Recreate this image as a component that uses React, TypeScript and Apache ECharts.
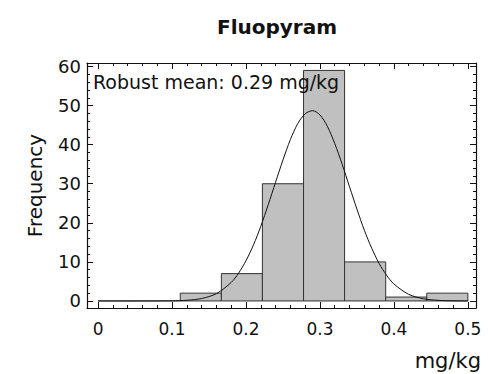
import React, { useEffect, useRef } from "react";
import * as echarts from "echarts";

const binEdges = [0, 0.0556, 0.1111, 0.1667, 0.2222, 0.2778, 0.3333, 0.3889, 0.4444, 0.5];
const binCounts = [0, 0, 2, 7, 30, 59, 10, 1, 2];

const curveX = [0, 0.04, 0.08, 0.1, 0.12, 0.14, 0.16, 0.18, 0.19, 0.2, 0.21, 0.22, 0.23, 0.24, 0.25, 0.26, 0.27, 0.28, 0.29, 0.3, 0.31, 0.32, 0.33, 0.34, 0.35, 0.36, 0.37, 0.38, 0.39, 0.4, 0.42, 0.44, 0.46, 0.48, 0.5];
const curveY = [0, 0, 0.01, 0.04, 0.18, 0.63, 1.87, 4.74, 7.12, 10.3, 14.3, 19.1, 24.6, 30.4, 36.1, 41.3, 45.4, 47.9, 48.7, 47.6, 44.7, 40.3, 35.0, 29.2, 23.5, 18.1, 13.5, 9.6, 6.6, 4.35, 1.69, 0.56, 0.16, 0.04, 0.01];

const xMajorTicks = [0, 0.1, 0.2, 0.3, 0.4, 0.5];
const xMinorTicks = [0, 0.02, 0.04, 0.06, 0.08, 0.1, 0.12, 0.14, 0.16, 0.18, 0.2, 0.22, 0.24, 0.26, 0.28, 0.3, 0.32, 0.34, 0.36, 0.38, 0.4, 0.42, 0.44, 0.46, 0.48, 0.5];
const yMajorTicks = [0, 10, 20, 30, 40, 50, 60];
const yMinorTicks = [0, 2, 4, 6, 8, 10, 12, 14, 16, 18, 20, 22, 24, 26, 28, 30, 32, 34, 36, 38, 40, 42, 44, 46, 48, 50, 52, 54, 56, 58, 60];

const titleText = "Fluopyram";
const annotation = "Robust mean: 0.29 mg/kg";
const xName = "mg/kg";
const yName = "Frequency";

const FONT = "DejaVu Sans";
const X_MIN = -0.015;
const X_MAX = 0.511;
const Y_MIN = -1.8;
const Y_MAX = 60.9;

export default function App() {
  const ref = useRef<HTMLDivElement>(null);
  useEffect(() => {
    if (!ref.current) return;
    const chart = echarts.init(ref.current, null, { renderer: "svg" });
    const bars = binCounts.map((c, i) => [binEdges[i], binEdges[i + 1], c]);

    const mkX = (pos: string, ticks: number[], len: number, labels: boolean, line: boolean) => ({
      type: "value",
      position: pos,
      min: X_MIN,
      max: X_MAX,
      gridIndex: 0,
      splitLine: { show: false },
      axisLine: { show: line, onZero: false, lineStyle: { color: "#111", width: 1.2 } },
      axisTick: { show: true, inside: true, length: len, customValues: ticks, lineStyle: { color: "#111", width: 1 } },
      axisLabel: labels
        ? { show: true, customValues: ticks, margin: 12, color: "#111", fontFamily: FONT, fontSize: 17, formatter: (v: number) => String(Math.round(v * 10) / 10) }
        : { show: false },
    });
    const mkY = (pos: string, ticks: number[], len: number, labels: boolean, line: boolean) => ({
      type: "value",
      position: pos,
      min: Y_MIN,
      max: Y_MAX,
      gridIndex: 0,
      splitLine: { show: false },
      axisLine: { show: line, onZero: false, lineStyle: { color: "#111", width: 1.2 } },
      axisTick: { show: true, inside: true, length: len, customValues: ticks, lineStyle: { color: "#111", width: 1 } },
      axisLabel: labels
        ? { show: true, customValues: ticks, margin: 6, color: "#111", fontFamily: FONT, fontSize: 18 }
        : { show: false },
      ...(labels
        ? {
            name: yName,
            nameLocation: "middle",
            nameGap: 42,
            nameRotate: 90,
            nameTextStyle: { color: "#111", fontFamily: FONT, fontSize: 20 },
          }
        : {}),
    });

    chart.setOption({
      animation: false,
      backgroundColor: "#fff",
      grid: { left: 87, right: 12, top: 63, bottom: 66, containLabel: false },
      xAxis: [
        mkX("bottom", xMajorTicks, 6, true, true),
        mkX("bottom", xMinorTicks, 3, false, false),
        mkX("top", xMajorTicks, 6, false, true),
        mkX("top", xMinorTicks, 3, false, false),
      ],
      yAxis: [
        mkY("left", yMajorTicks, 6, true, true),
        mkY("left", yMinorTicks, 3, false, false),
        mkY("right", yMajorTicks, 6, false, true),
        mkY("right", yMinorTicks, 3, false, false),
      ],
      graphic: [
        {
          type: "text",
          x: 277,
          y: 27,
          style: { text: titleText, fontFamily: FONT, fontSize: 20, fontWeight: "bold", fill: "#111", textAlign: "center", textVerticalAlign: "middle" },
        },
        {
          type: "text",
          x: 93,
          y: 82,
          z: 10,
          style: { text: annotation, fontFamily: FONT, fontSize: 19, fill: "#111", textAlign: "left", textVerticalAlign: "middle" },
        },
        {
          type: "text",
          x: 481,
          y: 361,
          style: { text: xName, fontFamily: FONT, fontSize: 21, fill: "#111", textAlign: "right", textVerticalAlign: "middle" },
        },
      ],
      series: [
        {
          type: "custom",
          xAxisIndex: 0,
          yAxisIndex: 0,
          data: bars,
          renderItem: (params: any, api: any) => {
            const x0 = api.value(0);
            const x1 = api.value(1);
            const c = api.value(2);
            const p0 = api.coord([x0, 0]);
            const p1 = api.coord([x1, c]);
            if (c === 0) {
              return {
                type: "line",
                shape: { x1: p0[0], y1: p0[1], x2: p1[0], y2: p0[1] },
                style: { stroke: "#333", lineWidth: 1 },
              };
            }
            return {
              type: "rect",
              shape: { x: p0[0], y: p1[1], width: p1[0] - p0[0], height: p0[1] - p1[1] },
              style: { fill: "#c0c0c0", stroke: "#333", lineWidth: 1 },
            };
          },
        },
        {
          type: "line",
          xAxisIndex: 0,
          yAxisIndex: 0,
          data: curveX.map((x, i) => [x, curveY[i]]),
          showSymbol: false,
          smooth: 0.3,
          lineStyle: { color: "#111", width: 1 },
          z: 5,
        },
      ],
    });
    return () => chart.dispose();
  }, []);
  return <div ref={ref} style={{ position: "fixed", left: 0, top: 0, width: 488, height: 374 }} />;
}
